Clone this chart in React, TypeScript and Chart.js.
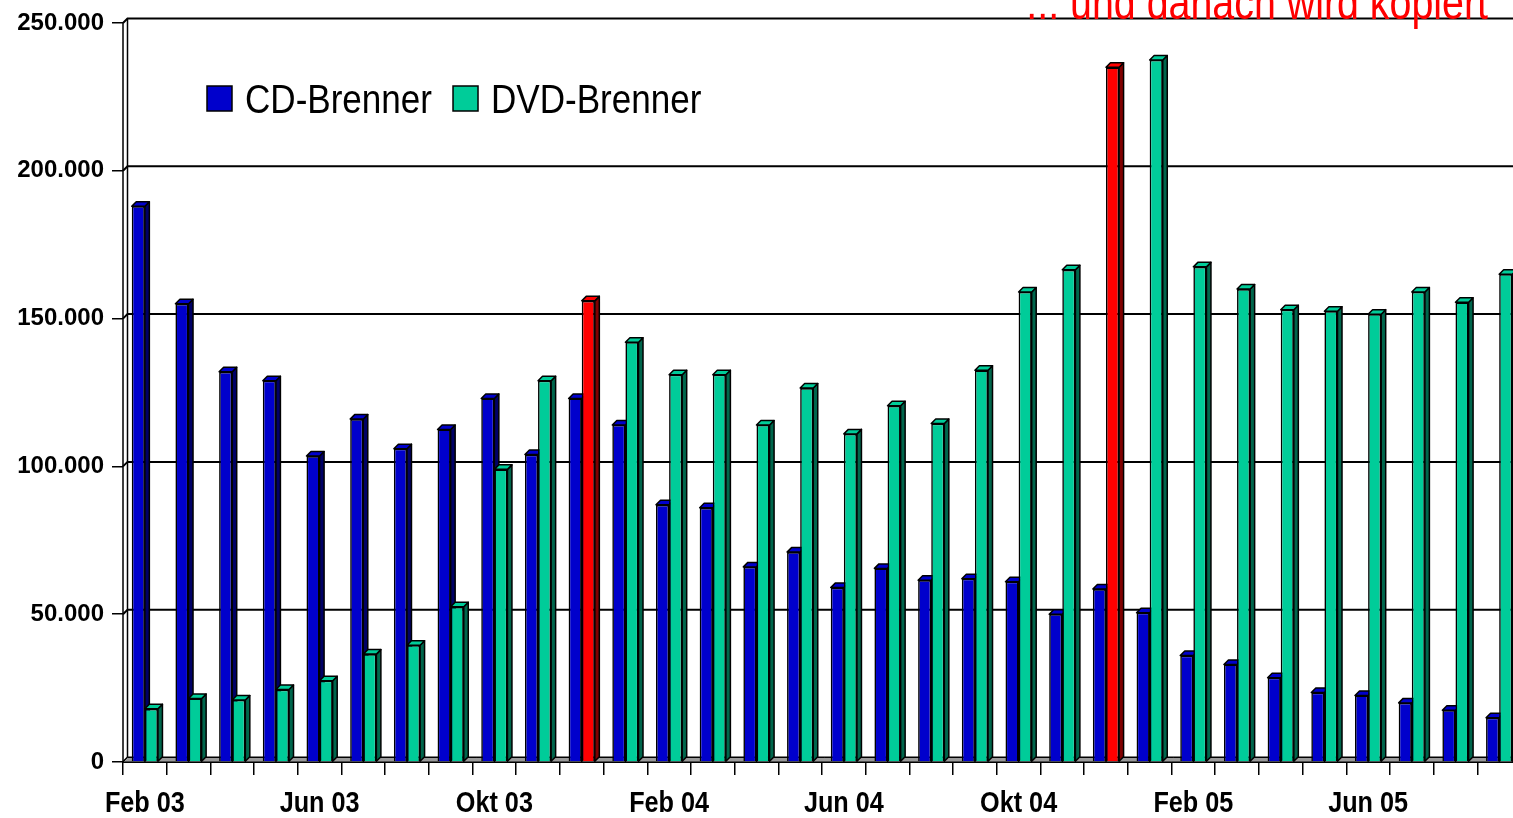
import React, { useEffect, useRef } from 'react';
import { Chart, registerables } from 'chart.js';

Chart.register(...registerables);

const MONTHS = [
  'Feb 03', 'Mär 03', 'Apr 03', 'Mai 03', 'Jun 03', 'Jul 03', 'Aug 03', 'Sep 03',
  'Okt 03', 'Nov 03', 'Dez 03', 'Jan 04', 'Feb 04', 'Mär 04', 'Apr 04', 'Mai 04',
  'Jun 04', 'Jul 04', 'Aug 04', 'Sep 04', 'Okt 04', 'Nov 04', 'Dez 04', 'Jan 05',
  'Feb 05', 'Mär 05', 'Apr 05', 'Mai 05', 'Jun 05', 'Jul 05', 'Aug 05', 'Sep 05',
];

const CD_BRENNER = [
  188000, 155000, 132000, 129000, 103500, 116000, 106000, 112500,
  123000, 104000, 123000, 114000, 87000, 86000, 66000, 71000,
  59000, 65500, 61500, 62000, 61000, 50000, 58500, 50500,
  36000, 33000, 28500, 23500, 22500, 20000, 17500, 15000,
];

const DVD_BRENNER = [
  18000, 21500, 21000, 24500, 27500, 36500, 39500, 52500,
  99000, 129000, 156000, 142000, 131000, 131000, 114000, 126500,
  111000, 120500, 114500, 132500, 159000, 166500, 235000, 237500,
  167500, 160000, 153000, 152500, 151500, 159000, 155500, 165000,
];

const HIGHLIGHT_MONTHS = ['Dez 03', 'Dez 04'];
const SERIES_NAMES = ['CD-Brenner', 'DVD-Brenner'];
const TITLE_TEXT = '... und danach wird kopiert';
const Y_MIN = 0;
const Y_MAX = 250000;
const Y_STEP = 50000;
const LABEL_EVERY = 4;

const CD_COLOR = '#0000CC';
const DVD_COLOR = '#00CC99';
const HIGHLIGHT_COLOR = '#FF0000';
const SIDE_COLORS: Record<string, string> = {
  '#0000CC': '#000066',
  '#00CC99': '#00664C',
  '#FF0000': '#800000',
};

const SANS = "'Liberation Sans', Arial, sans-serif";

const DX = 4.5;
const DY = 4.5;

const fmt = (v: number) => String(Math.round(v)).replace(/\B(?=(\d{3})+(?!\d))/g, '.');

// draw text horizontally condensed (Arial Narrow look)
function narrowText(
  ctx: CanvasRenderingContext2D,
  text: string,
  x: number,
  y: number,
  font: string,
  sx: number,
  align: 'left' | 'center' | 'right',
  baseline: CanvasTextBaseline,
) {
  ctx.save();
  ctx.font = font;
  ctx.textAlign = align;
  ctx.textBaseline = baseline;
  ctx.translate(x, y);
  ctx.scale(sx, 1);
  ctx.fillText(text, 0, 0);
  const w = ctx.measureText(text).width * sx;
  ctx.restore();
  return w;
}

const threeD = {
  id: 'threeD',
  beforeDatasetsDraw(chart: any) {
    const { ctx, chartArea: a, scales } = chart;
    const ys = scales.y;
    ctx.save();
    ctx.strokeStyle = '#000';
    ctx.lineWidth = 2;
    ys.ticks.forEach((t: any) => {
      const py = ys.getPixelForValue(t.value);
      ctx.beginPath();
      ctx.moveTo(a.left, py);
      ctx.lineTo(a.left + DX, py - DY);
      ctx.lineTo(a.right, py - DY);
      ctx.stroke();
    });
    ctx.lineWidth = 1.5;
    ctx.beginPath();
    ctx.moveTo(a.left, a.top);
    ctx.lineTo(a.left, a.bottom);
    ctx.moveTo(a.left + DX, a.top - DY);
    ctx.lineTo(a.left + DX, a.bottom - DY);
    ctx.stroke();
    // floor
    ctx.beginPath();
    ctx.moveTo(a.left, a.bottom);
    ctx.lineTo(a.left + DX, a.bottom - DY);
    ctx.lineTo(a.right + DX, a.bottom - DY);
    ctx.lineTo(a.right, a.bottom);
    ctx.closePath();
    ctx.fillStyle = '#9A9A9A';
    ctx.fill();
    ctx.lineWidth = 1;
    ctx.stroke();

    ctx.lineWidth = 1.5;
    ctx.lineJoin = 'round';
    chart.data.datasets.forEach((ds: any, di: number) => {
      const meta = chart.getDatasetMeta(di);
      meta.data.forEach((el: any, i: number) => {
        const p = el.getProps(['x', 'y', 'base', 'width'], true);
        const l = p.x - p.width / 2;
        const r = p.x + p.width / 2;
        const front = Array.isArray(ds.backgroundColor) ? ds.backgroundColor[i] : ds.backgroundColor;
        const side = SIDE_COLORS[front] || '#333';
        ctx.beginPath();
        ctx.moveTo(r, p.y);
        ctx.lineTo(r + DX, p.y - DY);
        ctx.lineTo(r + DX, p.base - DY);
        ctx.lineTo(r, p.base);
        ctx.closePath();
        ctx.fillStyle = side;
        ctx.fill();
        ctx.stroke();
        ctx.beginPath();
        ctx.moveTo(l, p.y);
        ctx.lineTo(l + DX, p.y - DY);
        ctx.lineTo(r + DX, p.y - DY);
        ctx.lineTo(r, p.y);
        ctx.closePath();
        ctx.fillStyle = front;
        ctx.fill();
        ctx.stroke();
      });
    });
    ctx.restore();
  },
};

const overlay = {
  id: 'overlay',
  afterDraw(chart: any) {
    const { ctx, scales } = chart;
    ctx.save();
    // x tick labels
    ctx.fillStyle = '#000';
    chart.data.labels.forEach((lab: string, i: number) => {
      if (i % LABEL_EVERY !== 0) return;
      const px = scales.x.getPixelForValue(i);
      narrowText(ctx, lab, px, 812, `bold 29px ${SANS}`, 0.87, 'center', 'alphabetic');
    });
    // legend
    let x = 207;
    const boxY = 86;
    const box = 25;
    chart.data.datasets.forEach((ds: any) => {
      ctx.fillStyle = ds.legendColor;
      ctx.fillRect(x, boxY, box, box);
      ctx.strokeStyle = '#000';
      ctx.lineWidth = 1.5;
      ctx.strokeRect(x, boxY, box, box);
      ctx.fillStyle = '#000';
      const w = narrowText(ctx, ds.label, x + 38, 113, `41px ${SANS}`, 0.855, 'left', 'alphabetic');
      x = x + 38 + w + 21;
    });
    // title
    ctx.fillStyle = HIGHLIGHT_COLOR;
    narrowText(ctx, TITLE_TEXT, 1488, 18.5, `48px ${SANS}`, 0.82, 'right', 'alphabetic');
    ctx.restore();
  },
};

export default function App() {
  const ref = useRef<HTMLCanvasElement>(null);

  useEffect(() => {
    if (!ref.current) return;
    const dvdColors = MONTHS.map((m) => (HIGHLIGHT_MONTHS.includes(m) ? HIGHLIGHT_COLOR : DVD_COLOR));
    const chart = new Chart(ref.current, {
      type: 'bar',
      data: {
        labels: MONTHS,
        datasets: [
          {
            label: SERIES_NAMES[0],
            data: CD_BRENNER,
            backgroundColor: CD_COLOR,
            borderColor: '#000',
            borderWidth: 1.6,
            categoryPercentage: 0.6,
            barPercentage: 1,
            legendColor: CD_COLOR,
          } as any,
          {
            label: SERIES_NAMES[1],
            data: DVD_BRENNER,
            backgroundColor: dvdColors,
            borderColor: '#000',
            borderWidth: 1.6,
            categoryPercentage: 0.6,
            barPercentage: 1,
            legendColor: DVD_COLOR,
          } as any,
        ],
      },
      options: {
        responsive: false,
        animation: false,
        layout: { padding: { top: 23, left: 0, right: 0, bottom: 0 } },
        plugins: {
          legend: { display: false },
          tooltip: { enabled: false },
          title: { display: false },
        },
        scales: {
          x: {
            grid: {
              display: true,
              drawOnChartArea: false,
              drawTicks: true,
              tickLength: 13,
              color: '#000',
              lineWidth: 1.5,
              offset: true,
            },
            border: { display: true, color: '#000', width: 2 },
            ticks: { display: false, autoSkip: false },
            afterFit: (s: any) => {
              s.height = 56;
            },
          },
          y: {
            min: Y_MIN,
            max: Y_MAX,
            grid: {
              display: true,
              drawOnChartArea: false,
              drawTicks: true,
              tickLength: 11,
              color: '#000',
              lineWidth: 1.5,
            },
            border: { display: false },
            ticks: {
              stepSize: Y_STEP,
              padding: 8,
              color: '#000',
              font: { family: SANS, size: 24, weight: 'bold' },
              callback: (v: any) => fmt(Number(v)),
            },
            afterFit: (s: any) => {
              s.width = 123;
            },
          },
        },
      } as any,
      plugins: [threeD, overlay],
    });
    return () => chart.destroy();
  }, []);

  return (
    <div
      style={{
        position: 'fixed',
        left: 0,
        top: 0,
        width: 1513,
        height: 818,
        overflow: 'hidden',
        background: '#fff',
      }}
    >
      <canvas ref={ref} width={1521} height={818} style={{ display: 'block' }} />
    </div>
  );
}
